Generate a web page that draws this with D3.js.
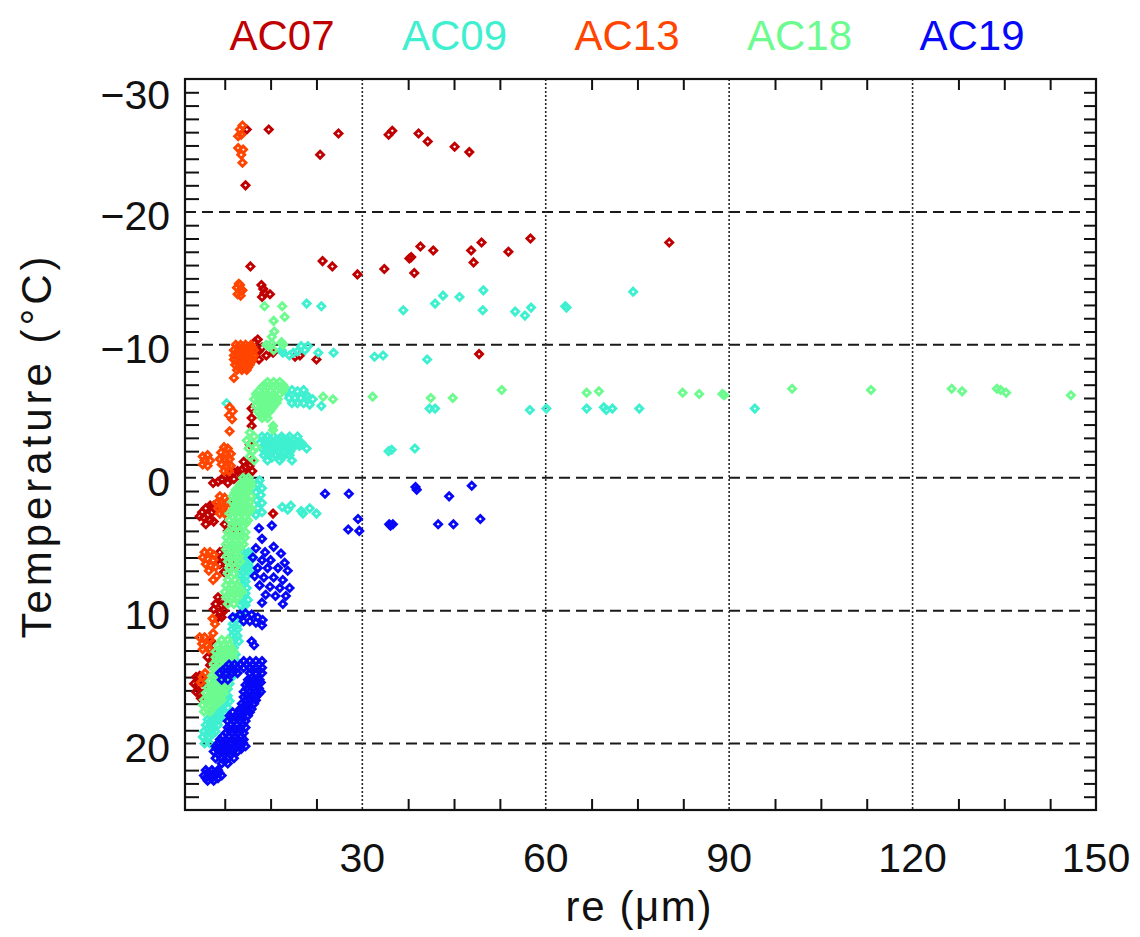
<!DOCTYPE html>
<html><head><meta charset="utf-8">
<script src="https://cdn.jsdelivr.net/npm/d3@7"></script>
<style>
html,body{margin:0;padding:0;background:#fff;}
svg{display:block;font-family:"Liberation Sans",Arial,sans-serif;}
</style></head><body>
<svg id="chart" width="1140" height="937"></svg>
<script>
// ---------- data ----------
const seriesNames = ["AC07","AC09","AC13","AC18","AC19"];
const seriesColors = ["#c00000","#3ff0d0","#ff4500","#6dfb8f","#0808f8"];
const xTickLabels = [30,60,90,120,150];
const yTickLabels = [-30,-20,-10,0,10,20];
const xDomain = [1,150];
const yDomain = [-30,25];
const xAxisTitle = "re (\u03bcm)";
const yAxisTitle = "Temperature (\u00b0C)";

const ac07 = [
 [11.1,-26.2],[14.7,-26.2],[10.9,-22.0],[23.1,-24.3],[26.1,-25.9],[34.3,-25.8],[34.9,-26.1],[39.2,-25.9],[40.7,-25.3],[45.1,-24.9],[47.5,-24.5],
 [11.7,-15.9],[23.5,-16.3],[25.1,-15.9],[29.2,-15.3],[33.6,-15.7],[37.7,-16.5],[38.0,-16.6],[38.5,-15.4],[39.5,-17.4],[41.6,-17.1],[47.8,-17.1],[49.5,-17.7],[48.2,-16.2],[53.9,-17.0],[57.5,-18.0],[80.2,-17.7],[49.1,-9.3],
 [13.5,-14.5],[14.0,-13.9],[14.9,-13.8],[13.6,-13.6],[13.8,-14.2],
 [12.4,-10.2],[13.0,-9.5],[13.1,-8.9],[14.3,-9.2],[15.4,-9.4],[12.6,-9.6],[13.6,-9.8],[12.9,-10.4],[22.5,-8.9],[19.0,-9.1],[19.8,-9.2],
 [11.9,-5.2],[11.9,-4.5],[11.9,-3.9],[11.6,-2.5],
 [5.6,0.4],[6.4,0.3],[7.0,0.1],[7.7,-0.1],[8.3,-0.2],[9.0,-0.4],[9.6,-0.5],[10.3,-0.6],[10.9,-0.8],[11.6,-0.9],[9.0,0.1],[10.3,0.0],[11.3,-0.2],[8.0,0.4],[12.0,-0.5],[11.9,-1.3],[10.6,-1.2],
 [3.8,2.6],[4.4,2.3],[5.1,2.1],[5.7,2.1],[6.0,2.4],[4.1,3.0],[4.7,2.8],[5.4,2.6],[5.1,3.2],[5.7,3.3],[4.4,3.5],[3.4,2.9],
 [8.9,2.0],[9.1,3.4],[7.5,3.5],[8.3,3.7],[9.1,3.8],[8.0,4.0],[9.6,4.0],[15.4,2.7],
 [6.7,5.6],[7.5,5.4],[8.3,5.6],[7.0,6.0],[8.0,6.2],[8.8,6.0],[6.7,6.5],[7.7,6.6],[8.7,6.6],[9.3,6.8],[7.4,7.1],
 [6.4,9.0],[7.0,9.2],[6.0,9.5],[7.0,9.6],[7.7,9.5],[5.7,9.9],[6.7,10.1],[7.4,10.0],[6.4,10.5],[7.0,10.5],
 [5.3,12.3],[5.1,12.9],[5.7,13.2],[4.7,13.5],[5.6,13.7],[6.2,13.8],[5.1,14.1],
 [2.8,15.0],[3.4,14.9],[4.1,15.2],[2.5,15.5],[3.1,15.6],[3.8,15.8],[2.8,16.1],[3.4,16.3],[4.2,15.5],[3.6,16.6]
];

const ac09 = [
 [20.9,-13.1],[23.3,-12.9],[36.7,-12.6],[41.9,-13.1],[43.2,-13.7],[45.9,-13.6],[49.8,-14.1],[49.7,-12.6],[55.0,-12.5],[56.6,-12.2],[57.6,-12.8],[63.2,-12.9],[63.4,-12.8],[74.3,-14.0],
 [17.0,-9.4],[18.7,-9.4],[19.4,-9.5],[20.0,-9.9],[18.1,-9.2],[22.8,-9.4],[25.3,-9.4],[32.0,-9.1],[33.4,-9.2],[40.6,-8.9],[16.8,-9.6],[20.6,-9.6],[21.1,-9.9],
 [41.0,-5.2],[41.9,-5.2],[57.4,-5.1],[60.1,-5.2],[66.7,-5.2],[69.5,-5.3],[69.9,-5.1],[70.9,-5.2],[75.3,-5.2],[94.2,-5.2],[23.3,-5.4],[21.1,-6.1],[7.8,-5.6],
 [17.5,-6.5],[18.5,-6.6],[19.4,-6.5],[20.4,-6.6],[18.0,-6.0],[19.0,-6.0],[19.9,-6.0],[20.9,-6.2],[18.5,-5.6],[19.4,-5.6],[20.4,-5.6],[21.9,-5.9],[21.4,-5.5],
 [34.8,-2.1],[34.3,-2.0],[38.6,-2.2],[20.9,-2.2],[20.1,-2.5],
 [13.6,-3.1],[14.5,-3.1],[15.5,-3.1],[16.8,-3.1],[18.1,-3.1],[19.4,-3.1],
 [13.9,-2.85],[14.9,-2.85],[15.9,-2.85],[16.9,-2.85],[17.9,-2.85],[18.9,-2.85],
 [13.2,-2.6],[14.2,-2.6],[15.2,-2.6],[16.2,-2.6],[17.2,-2.6],[18.1,-2.6],[19.1,-2.6],[20.1,-2.6],
 [13.9,-2.4],[14.9,-2.4],[15.9,-2.4],[16.9,-2.4],[17.9,-2.4],[18.9,-2.4],[19.7,-2.4],
 [13.6,-2.2],[14.5,-2.2],[15.5,-2.2],[16.5,-2.2],[17.5,-2.2],[18.5,-2.2],
 [14.2,-1.95],[15.2,-1.95],[16.2,-1.95],[17.2,-1.95],[18.2,-1.95],
 [13.9,-1.7],[14.9,-1.7],[15.8,-1.7],[16.8,-1.7],[18.1,-1.7],
 [15.2,-1.5],[16.9,-1.5],[14.5,-1.3],[16.5,-1.3],[18.5,-1.3],
 [13.2,0.2],[12.9,0.5],[13.6,0.8],[12.6,1.1],[13.4,1.3],[12.7,1.7],[13.6,1.9],[12.9,2.3],[13.6,2.6],[12.6,2.8],
 [16.9,2.2],[17.8,2.4],[18.3,2.1],[20.0,2.5],[21.4,2.3],[22.5,2.7],[20.3,2.7],
 [10.5,5.6],[11.4,5.6],[10.8,5.8],[11.6,5.8],[10.1,6.0],[11.1,6.0],[12.1,6.0],[10.7,6.25],[11.7,6.25],[10.3,6.5],[11.3,6.5],
 [10.6,6.7],[11.5,6.7],[10.0,6.9],[10.9,6.9],[11.9,6.9],[10.5,7.15],[11.5,7.15],
 [10.1,7.4],[11.1,7.4],[10.5,7.6],[10.0,7.8],[10.9,7.8],[10.5,8.05],[10.1,8.3],[11.1,8.3],[10.5,8.5],[10.0,8.7],[10.9,8.7],
 [10.6,8.95],[10.3,9.2],[11.3,9.2],[10.7,9.4],
 [10.1,9.6],[10.9,9.6],[10.5,10.1],[9.0,10.5],[10.0,10.5],[9.4,10.75],[8.8,11.0],[9.8,11.0],[9.2,11.2],[8.7,11.4],[9.6,11.4],
 [9.1,11.65],[8.7,11.9],[9.6,11.9],[9.2,12.1],[8.8,12.3],[9.8,12.3],
 [9.0,12.8],[9.3,13.3],[9.2,13.7],
 [8.7,14.6],[7.7,15.0],[8.7,15.0],[8.0,15.25],[7.4,15.5],[8.3,15.5],[7.7,15.7],[7.0,15.9],[8.0,15.9],[7.5,16.15],[7.0,16.4],[8.0,16.4],
 [7.0,16.6],[7.9,16.6],[6.4,16.8],[7.4,16.8],[8.3,16.8],[6.6,17.05],[7.5,17.05],[6.0,17.3],[7.0,17.3],[8.0,17.3],
 [6.2,17.5],[7.1,17.5],[5.4,17.7],[6.4,17.7],[7.4,17.7],[5.8,17.95],[6.8,17.95],
 [4.7,18.2],[5.7,18.2],[6.7,18.2],[5.0,18.4],[6.0,18.4],[4.4,18.6],[5.4,18.6],[6.4,18.6],[4.7,18.85],[5.7,18.85],
 [4.1,19.1],[5.1,19.1],[6.0,19.1],[4.5,19.3],[5.5,19.3],
 [3.9,19.5],[4.9,19.5],[4.2,20.0],[5.1,20.0]
];

const ac13 = [
 [10.4,-26.5],[9.7,-25.7],[10.2,-25.8],[9.7,-24.8],[10.5,-24.7],[10.2,-24.3],[10.4,-23.7],[10.0,-26.2],
 [9.5,-14.3],[10.0,-14.5],[10.4,-14.1],[9.6,-13.8],[10.1,-13.7],[10.0,-14.1],[9.8,-14.6],
 [9.3,-10.0],[10.1,-10.0],[10.9,-10.0],[11.8,-10.0],
 [9.6,-9.8],[10.5,-9.8],[11.3,-9.8],[12.0,-9.8],
 [9.0,-9.6],[9.8,-9.6],[10.6,-9.6],[11.4,-9.6],[12.3,-9.6],
 [9.4,-9.4],[10.2,-9.4],[11.0,-9.4],[11.8,-9.4],
 [9.0,-9.2],[9.8,-9.2],[10.6,-9.2],[11.4,-9.2],[12.3,-9.2],
 [9.4,-9.05],[10.2,-9.05],[11.0,-9.05],[11.8,-9.05],
 [9.0,-8.9],[9.8,-8.9],[10.6,-8.9],[11.4,-8.9],[12.1,-8.9],
 [9.5,-8.7],[10.3,-8.7],[11.1,-8.7],[11.8,-8.7],
 [9.2,-8.5],[10.0,-8.5],[10.8,-8.5],[11.6,-8.5],
 [9.8,-8.3],[10.6,-8.3],[11.3,-8.3],
 [9.5,-8.1],[10.3,-8.1],[11.1,-8.1],[9.0,-7.5],
 [8.3,-5.3],[8.8,-5.0],[8.2,-4.7],[8.7,-4.4],[8.3,-3.5],
 [3.9,-1.6],[4.7,-1.7],[4.2,-1.3],[5.1,-1.3],[3.9,-1.0],[4.7,-0.9],
 [7.4,-2.3],[8.0,-2.2],[6.9,-1.9],[7.7,-1.8],[8.5,-1.8],[6.7,-1.4],[7.5,-1.4],[8.3,-1.4],[7.0,-1.0],[7.8,-0.9],[8.5,-0.9],[7.4,-0.5],[8.2,-0.5],
 [6.7,1.4],[7.5,1.5],[6.2,1.9],[7.0,1.9],[7.8,1.9],[6.4,2.3],[7.2,2.3],[8.0,2.3],[6.7,2.7],[7.5,2.7],
 [4.2,5.6],[5.1,5.6],[5.7,5.8],[3.9,6.0],[4.7,6.1],[5.6,6.2],[4.4,6.5],[5.2,6.6],[6.0,6.7],[4.9,7.0],[6.2,7.4],
 [5.6,7.7],[5.5,10.6],[5.9,11.0],[5.6,11.7],
 [3.4,12.0],[4.2,12.0],[5.1,12.2],[3.8,12.5],[4.6,12.6],[3.9,12.9],[4.9,12.9],
 [3.9,15.0],[4.3,14.7],[3.6,15.4]
];

const ac18 = [
 [14.0,-12.9],[16.9,-12.9],[17.3,-12.1],[15.5,-11.8],[15.6,-11.0],[15.2,-10.6],[15.2,-10.1],[14.7,-9.9],[15.5,-9.6],[16.8,-10.2],[14.3,-10.0],[17.0,-10.0],
 [41.2,-6.0],[44.8,-6.0],[52.8,-6.6],[66.7,-6.4],[68.7,-6.5],[82.4,-6.4],[85.1,-6.3],[88.9,-6.3],[89.2,-6.2],[100.3,-6.7],[113.2,-6.6],[126.4,-6.7],[128.1,-6.5],[133.8,-6.7],[134.4,-6.6],[135.3,-6.4],[145.9,-6.2],[23.6,-6.1],[25.2,-5.9],[31.7,-6.1],
 [14.5,-7.2],[15.5,-7.2],[16.5,-7.2],
 [14.0,-7.0],[15.0,-7.0],[16.0,-7.0],[17.0,-7.0],
 [13.6,-6.8],[14.5,-6.8],[15.5,-6.8],[16.5,-6.8],[17.3,-6.8],
 [13.1,-6.55],[14.0,-6.55],[15.0,-6.55],[16.0,-6.55],[17.0,-6.55],
 [12.6,-6.3],[13.6,-6.3],[14.5,-6.3],[15.5,-6.3],[16.5,-6.3],
 [12.8,-6.1],[13.7,-6.1],[14.7,-6.1],[15.7,-6.1],
 [12.3,-5.9],[13.2,-5.9],[14.2,-5.9],[15.2,-5.9],[16.2,-5.9],
 [13.0,-5.65],[14.0,-5.65],[15.0,-5.65],[16.0,-5.65],
 [12.6,-5.4],[13.6,-5.4],[14.5,-5.4],[15.5,-5.4],
 [13.3,-5.2],[14.2,-5.2],[15.2,-5.2],
 [12.9,-5.0],[13.9,-5.0],[14.9,-5.0],[13.3,-4.75],[14.3,-4.75],
 [13.6,-4.5],[14.5,-4.5],[15.4,-3.9],[15.4,-3.6],
 [11.6,-3.4],[12.3,-3.1],[11.1,-2.8],[11.9,-2.6],[12.6,-2.3],[11.4,-2.2],[12.1,-2.0],[11.6,-1.6],[12.3,-1.3],
 [10.5,0.0],[11.4,0.0],[10.7,0.25],[11.6,0.25],[10.0,0.5],[10.9,0.5],[11.8,0.5],[9.8,0.7],[10.8,0.7],[11.6,0.7],
 [9.3,0.9],[10.3,0.9],[11.3,0.9],[9.1,1.15],[10.1,1.15],[11.1,1.15],
 [8.8,1.4],[9.8,1.4],[10.8,1.4],[11.8,1.4],[9.2,1.6],[10.2,1.6],[11.2,1.6],[8.7,1.8],[9.6,1.8],[10.6,1.8],[11.6,1.8],
 [9.1,2.05],[10.1,2.05],[11.1,2.05],
 [9.0,2.3],[10.0,2.3],[10.9,2.3],[11.8,2.3],[8.7,2.5],[9.6,2.5],[10.6,2.5],[11.6,2.5],
 [8.3,2.7],[9.3,2.7],[10.3,2.7],[11.3,2.7],[8.8,2.95],[9.8,2.95],[10.8,2.95],
 [8.3,3.2],[9.3,3.2],[10.3,3.2],[11.3,3.2],[9.0,3.4],[10.0,3.4],[11.0,3.4],[8.7,3.6],[9.6,3.6],[10.6,3.6],
 [8.0,4.1],[9.0,4.1],[10.0,4.1],[10.9,4.1],[8.4,4.3],[9.4,4.3],[10.4,4.3],[7.8,4.5],[8.8,4.5],[9.8,4.5],[10.8,4.5],
 [8.2,4.75],[9.2,4.75],[10.2,4.75],
 [7.7,5.0],[8.7,5.0],[9.6,5.0],[10.6,5.0],[8.2,5.2],[9.2,5.2],[10.1,5.2],[7.7,5.4],[8.7,5.4],[9.6,5.4],
 [8.2,5.65],[9.2,5.65],
 [7.8,5.9],[8.8,5.9],[9.8,5.9],[8.4,6.1],[9.4,6.1],[8.0,6.3],[9.0,6.3],[10.0,6.3],
 [8.2,6.8],[9.2,6.8],[8.0,7.2],[9.0,7.2],[8.0,7.7],[9.2,7.7],
 [7.7,8.1],[8.7,8.1],[9.6,8.1],[8.2,8.35],[9.1,8.35],[10.0,8.35],[7.5,8.6],[8.5,8.6],[9.5,8.6],[10.3,8.6],
 [8.1,8.8],[9.1,8.8],
 [7.7,9.0],[8.7,9.0],[9.6,9.0],[8.0,9.5],[9.0,9.5],
 [7.0,12.2],[8.0,12.2],[6.4,12.6],[7.4,12.6],[8.3,12.6],[6.7,12.85],[7.7,12.85],[8.6,12.85],
 [6.0,13.1],[7.0,13.1],[8.0,13.1],[9.0,13.1],[6.5,13.3],[7.5,13.3],[8.5,13.3],
 [6.0,13.5],[7.0,13.5],[8.0,13.5],[8.8,13.5],[6.2,13.75],[7.2,13.75],[8.2,13.75],
 [5.7,14.0],[6.7,14.0],[7.7,14.0],[6.2,14.2],[7.2,14.2],[5.7,14.4],[6.7,14.4],[7.7,14.4],[6.0,14.65],[7.0,14.65],
 [5.4,14.9],[6.4,14.9],[7.4,14.9],[5.7,15.1],[6.7,15.1],[7.6,15.1],[5.1,15.3],[6.0,15.3],[7.0,15.3],[8.0,15.3],
 [5.4,15.55],[6.4,15.55],[7.4,15.55],
 [4.7,15.8],[5.7,15.8],[6.7,15.8],[7.7,15.8],[5.0,16.0],[6.0,16.0],[7.0,16.0],[4.4,16.2],[5.4,16.2],[6.4,16.2],[7.4,16.2],
 [4.8,16.45],[5.8,16.45],[6.8,16.45],
 [4.1,16.7],[5.1,16.7],[6.0,16.7],[7.0,16.7],[4.5,16.9],[5.5,16.9],[6.5,16.9],[3.9,17.1],[4.9,17.1],[5.9,17.1],
 [4.5,17.35],[5.5,17.35],[4.1,17.6],[5.1,17.6]
];

const ac19 = [
 [23.9,1.2],[27.8,1.2],[29.3,3.1],[27.7,3.9],[29.5,4.0],[34.4,3.5],[35.0,3.5],[34.6,3.6],[38.7,0.7],[38.9,0.9],[44.2,1.4],[47.9,0.6],[42.4,3.5],[44.9,3.5],[49.3,3.1],
 [13.1,3.8],[15.2,3.6],[13.6,4.6],[15.5,5.2],[12.6,5.3],[14.1,5.6],[16.7,5.7],[12.1,6.0],[13.6,6.2],[15.0,6.2],[17.3,6.4],[12.9,6.8],[14.5,6.8],[16.2,6.8],[17.8,7.0],
 [12.4,7.4],[13.9,7.5],[15.5,7.5],[17.0,7.7],[13.2,8.1],[14.9,8.2],[16.5,8.3],[18.1,8.3],[14.2,8.8],[15.8,8.9],[17.5,8.9],[13.6,9.4],[17.0,9.5],
 [8.8,10.5],[10.0,10.3],[10.9,10.2],[11.9,10.3],[12.9,10.5],[13.7,10.7],[10.6,10.8],[11.6,10.8],[12.6,10.9],[13.6,11.1],[11.9,12.3],[12.3,12.6],
 [10.6,13.8],[11.6,13.8],[12.6,13.8],[13.6,13.8],
 [8.2,14.05],[9.1,14.05],[10.1,14.05],[11.1,14.05],[12.1,14.05],[13.1,14.05],
 [7.7,14.3],[8.7,14.3],[9.6,14.3],[10.6,14.3],[11.6,14.3],[12.6,14.3],[13.6,14.3],
 [7.2,14.5],[8.2,14.5],[9.1,14.5],[12.1,14.5],[13.1,14.5],
 [6.7,14.7],[7.7,14.7],[8.7,14.7],[9.6,14.7],[11.6,14.7],[12.6,14.7],[13.6,14.7],
 [7.0,15.2],[8.0,15.2],[11.3,15.2],[12.3,15.2],[13.2,15.2],[11.4,15.4],[12.4,15.4],[13.4,15.4],
 [10.9,15.6],[11.9,15.6],[12.9,15.6],[11.1,15.85],[12.1,15.85],[13.1,15.85],
 [10.6,16.1],[11.6,16.1],[12.6,16.1],[13.4,16.1],[11.1,16.3],[12.1,16.3],[13.0,16.3],
 [10.6,16.5],[11.6,16.5],[12.6,16.5],[10.9,16.75],[11.8,16.75],[12.6,16.75],
 [10.3,17.0],[11.3,17.0],[12.3,17.0],[10.6,17.2],[11.6,17.2],[10.0,17.4],[10.9,17.4],[11.9,17.4],
 [8.8,17.65],[9.8,17.65],[10.8,17.65],[11.6,17.65],
 [8.3,17.9],[9.3,17.9],[10.3,17.9],[11.3,17.9],[8.5,18.1],[9.5,18.1],[10.5,18.1],
 [8.0,18.3],[9.0,18.3],[10.0,18.3],[10.9,18.3],[8.5,18.55],[9.5,18.55],[10.5,18.55],
 [8.0,18.8],[9.0,18.8],[10.0,18.8],[10.9,18.8],[8.2,19.0],[9.2,19.0],[10.2,19.0],
 [7.7,19.2],[8.7,19.2],[9.6,19.2],[10.6,19.2],[7.2,19.45],[8.2,19.45],[9.2,19.45],[10.2,19.45],
 [6.7,19.7],[7.7,19.7],[8.7,19.7],[9.6,19.7],[10.6,19.7],[6.5,19.95],[7.5,19.95],[8.5,19.95],[9.5,19.95],[10.5,19.95],
 [6.0,20.2],[7.0,20.2],[8.0,20.2],[9.0,20.2],[10.0,20.2],[10.9,20.2],[6.2,20.4],[7.2,20.4],[8.2,20.4],[9.2,20.4],[10.2,20.4],
 [5.7,20.6],[6.7,20.6],[7.7,20.6],[8.7,20.6],[9.6,20.6],[6.5,20.85],[7.5,20.85],[8.5,20.85],
 [6.0,21.1],[7.0,21.1],[8.0,21.1],[9.0,21.1],[7.5,21.3],[7.0,21.5],[8.0,21.5],
 [4.4,22.0],[5.4,22.0],[6.4,22.0],[4.7,22.2],[5.7,22.2],[6.6,22.2],
 [4.1,22.4],[5.1,22.4],[6.0,22.4],[7.0,22.4],[4.4,22.6],[5.4,22.6],[6.4,22.6],[4.7,22.8],[5.7,22.8]
];

const seriesValues = [ac07, ac09, ac13, ac18, ac19];

// ---------- drawing ----------
const svg = d3.select("#chart");
const x = d3.scaleLinear().domain(xDomain).range([185, 1096]);
const y = d3.scaleLinear().domain(yDomain).range([79, 810]);
const [x0, x1] = x.range();
const [y0, y1] = y.range();

// grid lines
svg.append("g").selectAll("line").data(yTickLabels.filter(v => v > yDomain[0])).join("line")
  .attr("x1", x0).attr("x2", x1).attr("y1", d => y(d)).attr("y2", d => y(d))
  .attr("stroke", "#1a1a1a").attr("stroke-width", 2).attr("stroke-dasharray", "11,6");
svg.append("g").selectAll("line").data(xTickLabels.filter(v => v < xDomain[1])).join("line")
  .attr("x1", d => x(d)).attr("x2", d => x(d)).attr("y1", y0).attr("y2", y1)
  .attr("stroke", "#2a2a2a").attr("stroke-width", 1.6).attr("stroke-dasharray", "2,2");

// minor ticks via d3 axes
const yMinor = d3.range(yDomain[0] + 1, yDomain[1]).filter(v => v % 10 !== 0);
const xMinor = d3.range(7.5, 150, 7.5).filter(v => v % 30 !== 0);
function styleAxis(g) {
  g.select(".domain").remove();
  g.selectAll(".tick line").attr("stroke", "#111").attr("stroke-width", 2);
}
svg.append("g").attr("transform", `translate(${x0},0)`)
  .call(d3.axisRight(y).tickValues(yMinor).tickSize(14).tickFormat("")).call(styleAxis);
svg.append("g").attr("transform", `translate(${x1},0)`)
  .call(d3.axisLeft(y).tickValues(yMinor).tickSize(12).tickFormat("")).call(styleAxis);
svg.append("g").attr("transform", `translate(0,${y1})`)
  .call(d3.axisTop(x).tickValues(xMinor).tickSize(11).tickFormat("")).call(styleAxis);
svg.append("g").attr("transform", `translate(0,${y0})`)
  .call(d3.axisBottom(x).tickValues(xMinor).tickSize(11).tickFormat("")).call(styleAxis);

// markers (open diamonds)
const r = 3.5;
const diamond = `M0,${-r}L${r},0L0,${r}L${-r},0Z`;
seriesNames.forEach((name, i) => {
  svg.append("g").attr("class", "series-" + name)
    .selectAll("path").data(seriesValues[i]).join("path")
    .attr("d", diamond)
    .attr("transform", d => `translate(${x(d[0])},${y(d[1])})`)
    .attr("fill", "none").attr("stroke", seriesColors[i]).attr("stroke-width", 2.9);
});

// frame
svg.append("rect").attr("x", x0).attr("y", y0).attr("width", x1 - x0).attr("height", y1 - y0)
  .attr("fill", "none").attr("stroke", "#111").attr("stroke-width", 2.2);

// tick labels
const fmt = v => v < 0 ? "\u2212" + Math.abs(v) : String(v);
svg.append("g").selectAll("text").data(yTickLabels).join("text")
  .attr("x", x0 - 15).attr("y", d => Math.max(y(d) + 4, y0 + 16))
  .attr("text-anchor", "end").attr("dominant-baseline", "central")
  .attr("font-size", 41).attr("fill", "#111").text(fmt);
svg.append("g").selectAll("text").data(xTickLabels).join("text")
  .attr("x", d => x(d)).attr("y", 872)
  .attr("text-anchor", "middle").attr("font-size", 41).attr("fill", "#111").text(fmt);

// axis titles
svg.append("text").attr("x", (x0 + x1) / 2 - 2).attr("y", 921).attr("text-anchor", "middle")
  .attr("font-size", 42).attr("fill", "#111").attr("textLength", 146).attr("lengthAdjust", "spacing")
  .text(xAxisTitle);
svg.append("text").attr("transform", `translate(51,${(y0 + y1) / 2 + 3}) rotate(-90)`)
  .attr("text-anchor", "middle").attr("font-size", 42).attr("fill", "#111")
  .attr("textLength", 382).attr("lengthAdjust", "spacing").text(yAxisTitle);

// legend (coloured names)
const lx = d3.scalePoint().domain(seriesNames).range([282, 972]);
svg.append("g").selectAll("text").data(seriesNames).join("text")
  .attr("x", d => lx(d)).attr("y", 50).attr("text-anchor", "middle")
  .attr("font-size", 42).attr("fill", (d, i) => seriesColors[i]).text(d => d);
</script>
</body></html>
